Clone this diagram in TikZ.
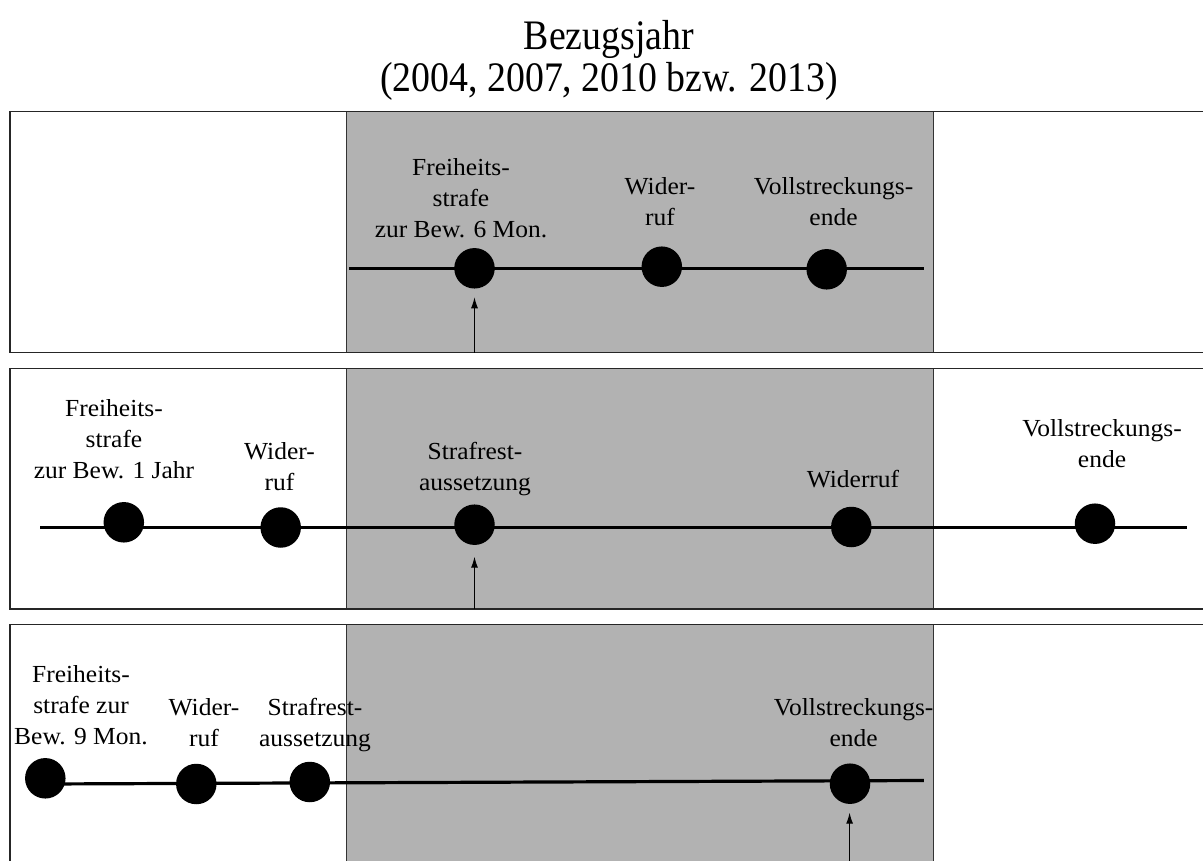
\documentclass[tikz,border=0pt]{standalone}
\usepackage{fontspec}
\setmainfont[FakeStretch=1.04]{Liberation Serif}
\newfontfamily\titlefont[FakeStretch=0.9]{Liberation Serif}
\usetikzlibrary{arrows.meta}
\definecolor{panelgray}{RGB}{178,178,178}
\newcommand\lbltab[1]{\begin{tabular}[t]{@{}c@{}}#1\end{tabular}}
\begin{document}
\begin{tikzpicture}[x=1pt,y=-1pt,
  lbl/.style={anchor=base,inner sep=0pt,font=\fontsize{24.5}{31}\selectfont},
  ttl/.style={anchor=base,inner sep=0pt,font=\titlefont\fontsize{42}{41}\selectfont},
  dot/.style={circle,fill=black,draw=none,minimum size=40.5pt,inner sep=0pt},
  tline/.style={line width=3.2pt},
  arr/.style={line width=1pt,-{Latex[length=11pt,width=7pt]}},
  frame/.style={draw=black!85,line width=1.6pt},
  grayzone/.style={fill=panelgray,draw=black!80,line width=1pt}]
\useasboundingbox (0,0) rectangle (1203,861);
\clip (0,0) rectangle (1203,861);
\fill[white] (0,0) rectangle (1203,861);
% title
\node[ttl] (title) at (609,50) {\lbltab{Bezugsjahr\\(2004, 2007, 2010 bzw. 2013)}};
% panels
\foreach \t/\b in {111.5/352.5, 368.5/609, 624.5/880}{
  \draw[grayzone] (346.5,\t) rectangle (933,\b);
  \draw[frame] (10,\t) rectangle (1230,\b);
}
% ---------- panel 1 ----------
\coordinate (p1s) at (349,268.3);
\coordinate (p1e) at (923.5,268.3);
\draw[tline] (p1s) -- (p1e);
\node[dot] (p1d1) at (474.5,268.3) {};
\node[dot] (p1d2) at (661.8,266.7) {};
\node[dot] (p1d3) at (826.7,269.3) {};
\coordinate (p1b) at (474.5,352.5);
\coordinate (p1t) at (474.5,297.3);
\draw[arr] (p1b) -- (p1t);
\node[lbl] (p1l1) at (461,175.7) {\lbltab{Freiheits-\\strafe\\zur Bew. 6 Mon.}};
\node[lbl] (p1l2) at (660,195) {\lbltab{Wider-\\ruf}};
\node[lbl] (p1l3) at (833.5,195) {\lbltab{Vollstreckungs-\\ende}};
% ---------- panel 2 ----------
\coordinate (p2s) at (40.2,527.7);
\coordinate (p2e) at (1186.5,527.7);
\draw[tline] (p2s) -- (p2e);
\node[dot] (p2d1) at (123.8,522.3) {};
\node[dot] (p2d2) at (280.7,527.5) {};
\node[dot] (p2d3) at (474.5,524.7) {};
\node[dot] (p2d4) at (851.3,527) {};
\node[dot] (p2d5) at (1095,523.7) {};
\coordinate (p2b) at (474.5,609);
\coordinate (p2t) at (474.5,556.7);
\draw[arr] (p2b) -- (p2t);
\node[lbl] (p2l1) at (114,416) {\lbltab{Freiheits-\\strafe\\zur Bew. 1 Jahr}};
\node[lbl] (p2l2) at (279.5,459) {\lbltab{Wider-\\ruf}};
\node[lbl] (p2l3) at (475,459) {\lbltab{Strafrest-\\aussetzung}};
\node[lbl] (p2l4) at (853,487) {Widerruf};
\node[lbl] (p2l5) at (1102,436) {\lbltab{Vollstreckungs-\\ende}};
% ---------- panel 3 ----------
\coordinate (p3s) at (45.3,784);
\coordinate (p3e) at (923.8,780.5);
\draw[tline] (p3s) -- (p3e);
\node[dot] (p3d1) at (45.3,778.3) {};
\node[dot] (p3d2) at (196.3,784) {};
\node[dot] (p3d3) at (309.8,782) {};
\node[dot] (p3d4) at (850,783.7) {};
\coordinate (p3b) at (849.6,880);
\coordinate (p3t) at (849.6,812.7);
\draw[arr] (p3b) -- (p3t);
\node[lbl] (p3l1) at (81,682) {\lbltab{Freiheits-\\strafe zur\\Bew. 9 Mon.}};
\node[lbl] (p3l2) at (204,715) {\lbltab{Wider-\\ruf}};
\node[lbl] (p3l3) at (315,715) {\lbltab{Strafrest-\\aussetzung}};
\node[lbl] (p3l4) at (853.7,715) {\lbltab{Vollstreckungs-\\ende}};
\end{tikzpicture}
\end{document}
